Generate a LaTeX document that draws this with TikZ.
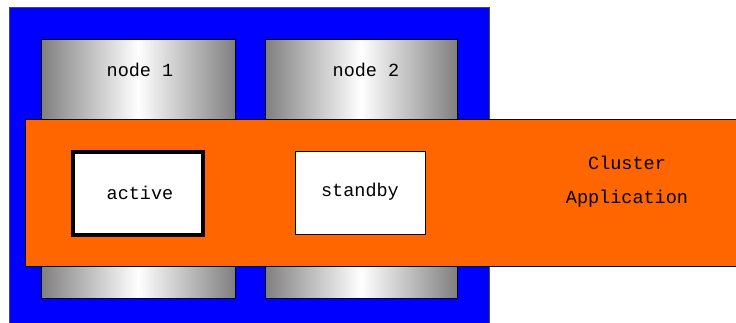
\documentclass[tikz,border=0pt]{standalone}
\usepackage{fontspec}
\setmainfont{Liberation Mono}
\definecolor{clorange}{HTML}{FF6600}
\definecolor{clblue}{HTML}{0000FF}
\tikzset{
  hostbox/.style={draw=black, line width=1pt, left color=gray, right color=gray, middle color=white},
  rolebox/.style={draw=black, fill=white},
  lbl/.style={font=\fontsize{18.5}{22}\selectfont, inner sep=0pt}
}
\begin{document}
\begin{tikzpicture}[x=1pt,y=-1pt]
\useasboundingbox (0,0) rectangle (736,323);
\clip (0,0) rectangle (736,323);
\draw[fill=clblue, draw=black!70, line width=1pt] (9,8) rectangle (489,330);
\draw[hostbox] (41,40) rectangle (235,298);
\draw[hostbox] (265,40) rectangle (457,298);
\node[lbl] (n1) at (140,70) {node 1};
\node[lbl] (n2) at (366,70) {node 2};
\draw[fill=clorange, draw=black, line width=1pt] (25,120) rectangle (745,266);
\draw[rolebox, line width=4pt] (73,152) rectangle (203,235);
\node[lbl] (act) at (140,193) {active};
\draw[rolebox, line width=1pt] (295,152) rectangle (425,234);
\node[lbl] (sb) at (360,192) {standby};
\node[lbl, align=center] (ca) at (627,182) {Cluster\\[12pt]Application};
\end{tikzpicture}
\end{document}
